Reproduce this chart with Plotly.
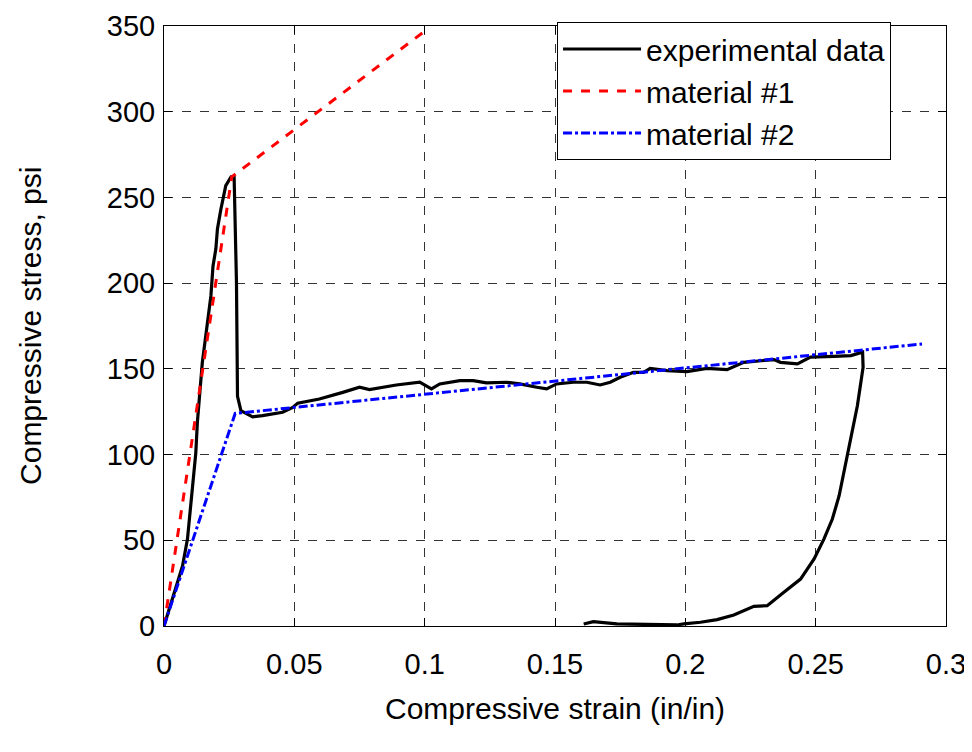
import plotly.graph_objects as go

exp_strain = [0, 0.0045, 0.0071, 0.009, 0.0109, 0.0122, 0.0128, 0.0147, 0.016, 0.018, 0.0188,
              0.0199, 0.0205, 0.0218, 0.0237, 0.0257, 0.0269, 0.0273, 0.0278, 0.0282, 0.0295,
              0.034, 0.0378, 0.0455, 0.0494, 0.0513, 0.0596, 0.0686, 0.075, 0.0788, 0.0891,
              0.0981, 0.1026, 0.1058, 0.1135, 0.1186, 0.1237, 0.1314, 0.1365, 0.143, 0.1468,
              0.1506, 0.157, 0.1622, 0.1673, 0.1712, 0.175, 0.1801, 0.184, 0.1865, 0.193,
              0.2006, 0.2083, 0.216, 0.2224, 0.234, 0.2365, 0.243, 0.248, 0.257, 0.2635,
              0.268, 0.2682, 0.266, 0.2635, 0.2609, 0.259, 0.2564, 0.2532, 0.2494, 0.2442,
              0.2378, 0.2314, 0.2263, 0.2186, 0.2122, 0.2058, 0.1994, 0.1968, 0.1737, 0.1647,
              0.161]
exp_stress = [0, 21.6, 35, 50.7, 80, 101, 118.8, 153.8, 169, 192.7, 210,
              220, 231.6, 243, 256.9, 262, 261.8, 239.4, 200.5, 134, 125.6,
              122, 122.7, 124.7, 127.5, 130, 132.4, 136.3, 139.3, 137.9, 140.6,
              142.2, 138.3, 141.2, 143.1, 143.1, 141.8, 142.2, 141.2, 139.3, 138.3,
              141.2, 142.2, 142.2, 140.6, 142.2, 145.1, 148, 148, 150.3, 149,
              148.4, 150.3, 149.5, 153.8, 155.4, 153.8, 152.9, 156.8, 157.3, 157.7,
              159.7, 151, 128.5, 109, 89.7, 76, 62.4, 50.8, 39.1, 27.4,
              19.7, 11.8, 11.5, 6.4, 3.7, 2.2, 1.2, 0.6, 1.2, 2.5,
              1.2]

mat1_strain = [0, 0.026, 0.1]
mat1_stress = [0, 262, 347]

mat2_strain = [0, 0.0273, 0.2908]
mat2_stress = [0, 124, 164.5]

x_ticks = [0, 0.05, 0.1, 0.15, 0.2, 0.25, 0.3]
x_tick_labels = ["0", "0.05", "0.1", "0.15", "0.2", "0.25", "0.3"]
y_ticks = [0, 50, 100, 150, 200, 250, 300, 350]

fig = go.Figure()
fig.add_trace(go.Scatter(x=exp_strain, y=exp_stress, mode="lines", name="experimental data",
                         line=dict(color="black", width=3.2)))
fig.add_trace(go.Scatter(x=mat1_strain, y=mat1_stress, mode="lines", name="material #1",
                         line=dict(color="#ff0000", width=3, dash="dash")))
fig.add_trace(go.Scatter(x=mat2_strain, y=mat2_stress, mode="lines", name="material #2",
                         line=dict(color="#0000ff", width=3, dash="dashdot")))

font_family = "Liberation Sans, Arial, sans-serif"
axis_common = dict(
    showline=True, linecolor="black", linewidth=1, mirror="ticks",
    ticks="inside", ticklen=8, tickcolor="black",
    showgrid=True, gridcolor="#333333", griddash="dash", gridwidth=1,
    zeroline=False, automargin=False,
    tickfont=dict(family=font_family, size=29, color="black"),
)

fig.update_layout(
    width=972, height=752,
    margin=dict(l=156, r=34, t=18, b=134, autoexpand=False),
    paper_bgcolor="white", plot_bgcolor="white",
    font=dict(family=font_family, color="black"),
    showlegend=True,
    legend=dict(x=0.5026, y=1.0067, xanchor="left", yanchor="top",
                bgcolor="white", bordercolor="black", borderwidth=1,
                font=dict(family=font_family, size=30, color="black"),
                itemwidth=78, tracegroupgap=0),
    xaxis=dict(range=[0, 0.3], tickvals=x_ticks, ticktext=x_tick_labels,
               ticklabelstandoff=12, **axis_common),
    yaxis=dict(range=[0, 350], tickvals=y_ticks, ticklabelstandoff=2,
               **axis_common),
    annotations=[
        dict(text="Compressive strain (in/in)", xref="paper", yref="paper",
             x=0.5, y=-0.137, xanchor="center", yanchor="middle", showarrow=False,
             font=dict(family=font_family, size=30, color="black")),
        dict(text="Compressive stress, psi", xref="paper", yref="paper",
             x=-0.1714, y=0.5, xanchor="center", yanchor="middle", showarrow=False,
             textangle=-90,
             font=dict(family=font_family, size=30, color="black")),
    ],
)

fig.write_html("out.html")
